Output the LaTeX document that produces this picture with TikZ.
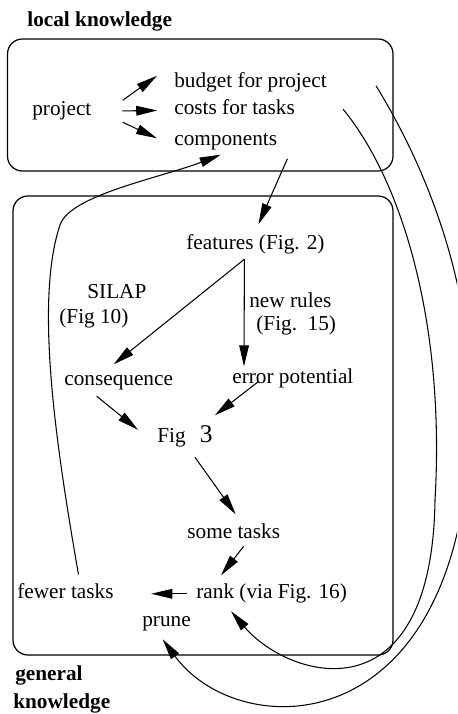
\documentclass[tikz,border=0pt]{standalone}
\usepackage{fontspec}
\setmainfont{Liberation Serif}
\usepackage{tikz}
\usetikzlibrary{positioning, calc, arrows.meta}
\tikzstyle{Arrow} = [
    line width = 0.6pt,
    -{Triangle[length=12pt, width=5.5pt]}
]
\tikzstyle{Knowledge} = [
    line width = 0.7pt,
    rounded corners = 8.5pt
]

\begin{document}
\begin{tikzpicture}[
x = 0.02cm, y = -0.02cm,
txt/.style={
    anchor = base west,
    inner sep = 0pt,
    font = \fontsize{12.1}{14}\selectfont,
    text height = 0.7em,
    text depth = 0.22em
    },
heading/.style={
    txt,
    font = \fontsize{12.1}{14}\selectfont\bfseries
    }
]
\clip (0,0) rectangle (457,714);

% the two kinds of knowledge
\draw[Knowledge] (7.5,39) rectangle (393,171);
\draw[Knowledge] (13,196) rectangle (393,655);
\node[heading] (local) at (27,26.7) {local knowledge};
\node[heading] (general) at (15,680) {general};
\node[heading] (knowledge) at (13,708) {knowledge};

\node[txt] (project) at (32,115.5) {project};
\node[txt] (budget) at (174,87) {budget for project};
\node[txt] (costs) at (174,114.5) {costs for tasks};
\node[txt] (comps) at (174,145.5) {components};

\node[txt] (features) at (186,249) {features (Fig. 2)};
\node[txt] (silap) at (87,298) {SILAP};
\node[txt] (silapfig) at (59,323) {(Fig 10)};
\node[txt] (rules) at (249,307) {new rules};
\node[txt] (rulesfig) at (256,330) {(Fig.\ \ 15)};
\node[txt] (conseq) at (64,385) {consequence};
\node[txt] (errpot) at (232,383) {error potential};
\node[txt] (fig3) at (157,442) {Fig\hspace{8pt}{\fontsize{14.5}{16}\selectfont 3}};
\node[txt] (some) at (187,538) {some tasks};
\node[txt] (rank) at (196,598) {rank (via Fig. 16)};
\node[txt] (fewer) at (17,598) {fewer tasks};
\node[txt] (prune) at (142,626) {prune};

\draw[Arrow] ([shift={(31,-11)}]project.east) -- ([shift={(-17,-7)}]budget.west);
\draw[Arrow, shorten <=17.5pt, shorten >=9.5pt] (project.east) -- (costs.west);
\draw[Arrow] ([shift={(31,11)}]project.east) -- ([shift={(-17,-3)}]comps.west);

\draw[Arrow] ([shift={(10,9)}]comps.south east) -- ([shift={(3,-12)}]features.north);
\coordinate (fork) at ([shift={(-11,6)}]features.south);
\draw[Arrow] (fork) -- ([shift={(-5,-8)}]conseq.north);
\draw[Arrow] (fork) -- ([shift={(12,-4)}]errpot.north west);

\draw[Arrow] ([shift={(-22,7)}]conseq.south) -- ([shift={(-19,-8)}]fig3.west);
\draw[Arrow] ([shift={(-34,-6)}]errpot.south) -- ([shift={(2,-14)}]fig3.north east);
\draw[Arrow] ([shift={(10,11)}]fig3.south) -- ([shift={(2,-11)}]some.north);
\draw[Arrow] ([shift={(10,4)}]some.south) -- ([shift={(25,-10)}]rank.north west);
\draw[Arrow, shorten <=5pt, shorten >=21.2pt] (rank.west) -- (fewer.east);

% feedback loops
\draw[Arrow] ([shift={(13,-11)}]fewer.north)
    .. controls (55,440) and (35,300) .. (60,225)
    .. controls (70,195) and (160,178) .. ([shift={(-5,5)}]comps.south);
\draw[Arrow] ([shift={(48,-1)}]costs.east)
    .. controls (405,185) and (445,330) .. (435,500)
    .. controls (432,720) and (290,680) .. ([shift={(35,9)}]rank.south west);
\draw[Arrow] ([shift={(49,3)}]budget.east)
    .. controls (440,190) and (475,310) .. (470,420)
    .. controls (465,745) and (240,745) .. ([shift={(-4,9)}]prune.south);

\end{tikzpicture}
\end{document}
